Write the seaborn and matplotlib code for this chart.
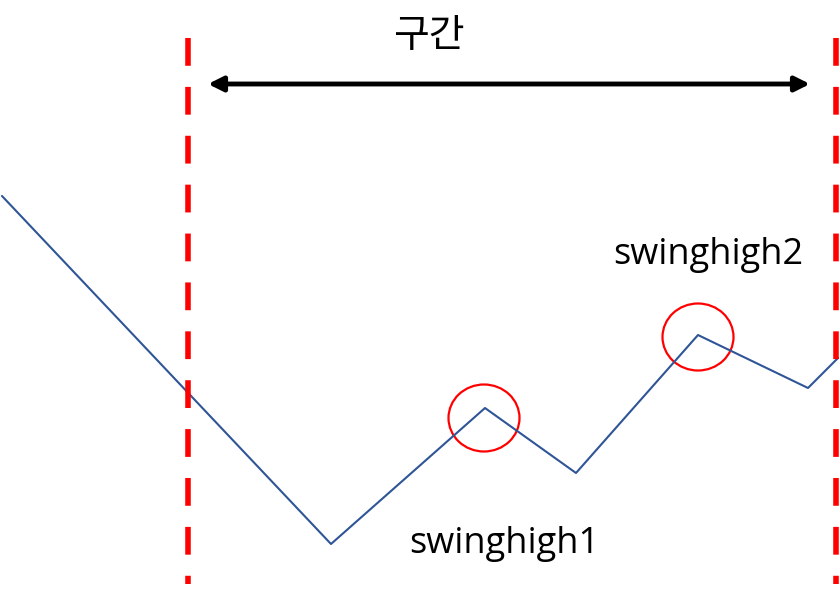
import matplotlib
matplotlib.use("Agg")
import matplotlib.pyplot as plt
from matplotlib.patches import Ellipse
import seaborn as sns
import pandas as pd

sns.set_theme(style="white")
plt.rcParams['font.family'] = ['Noto Sans CJK KR', 'DejaVu Sans']

# price path (x, y in chart units, y grows downward)
path_x = [2, 331, 485, 576, 698, 808, 838]
path_y = [196, 544, 408, 473, 335, 388, 358]

# swing highs
swing_x = [484, 698]
swing_y = [418, 337]
swing_labels = ["swinghigh1", "swinghigh2"]
label_x = [504, 708]
label_y = [544, 255]

# interval bounds
bound_x = [188, 836]
arrow_x = [208, 810]
arrow_y = 84
interval_label = "구간"

fig = plt.figure(figsize=(8.4, 5.98), dpi=100)
ax = fig.add_axes([0, 0, 1, 1])
ax.set_xlim(0, 840)
ax.set_ylim(598, 0)
ax.axis("off")

df = pd.DataFrame({"x": path_x, "y": path_y})
sns.lineplot(data=df, x="x", y="y", ax=ax, color="#2F5597", linewidth=1.5,
             sort=False, estimator=None)

for bx in bound_x:
    ax.plot([bx, bx], [38, 584], color="#FF0000", linewidth=4,
            linestyle=(0, (5, 3.8)), solid_capstyle="butt", dash_capstyle="butt")

ax.annotate("", xy=(arrow_x[0], arrow_y), xytext=(arrow_x[1], arrow_y),
            arrowprops=dict(arrowstyle="<|-|>", color="black", lw=3.5,
                            mutation_scale=22, shrinkA=0, shrinkB=0))
ax.text(429, 36, interval_label, fontsize=28, ha="center", va="center", color="black")

for cx, cy in zip(swing_x, swing_y):
    ax.add_patch(Ellipse((cx, cy), 71, 67, fill=False, edgecolor="#FF0000", linewidth=1.6))

for lx, ly, lab in zip(label_x, label_y, swing_labels):
    ax.text(lx, ly, lab, fontsize=26, ha="center", va="center", color="black",
            family=["Open Sans", "DejaVu Sans"])

fig.savefig("out.png", dpi=100, facecolor="white")
